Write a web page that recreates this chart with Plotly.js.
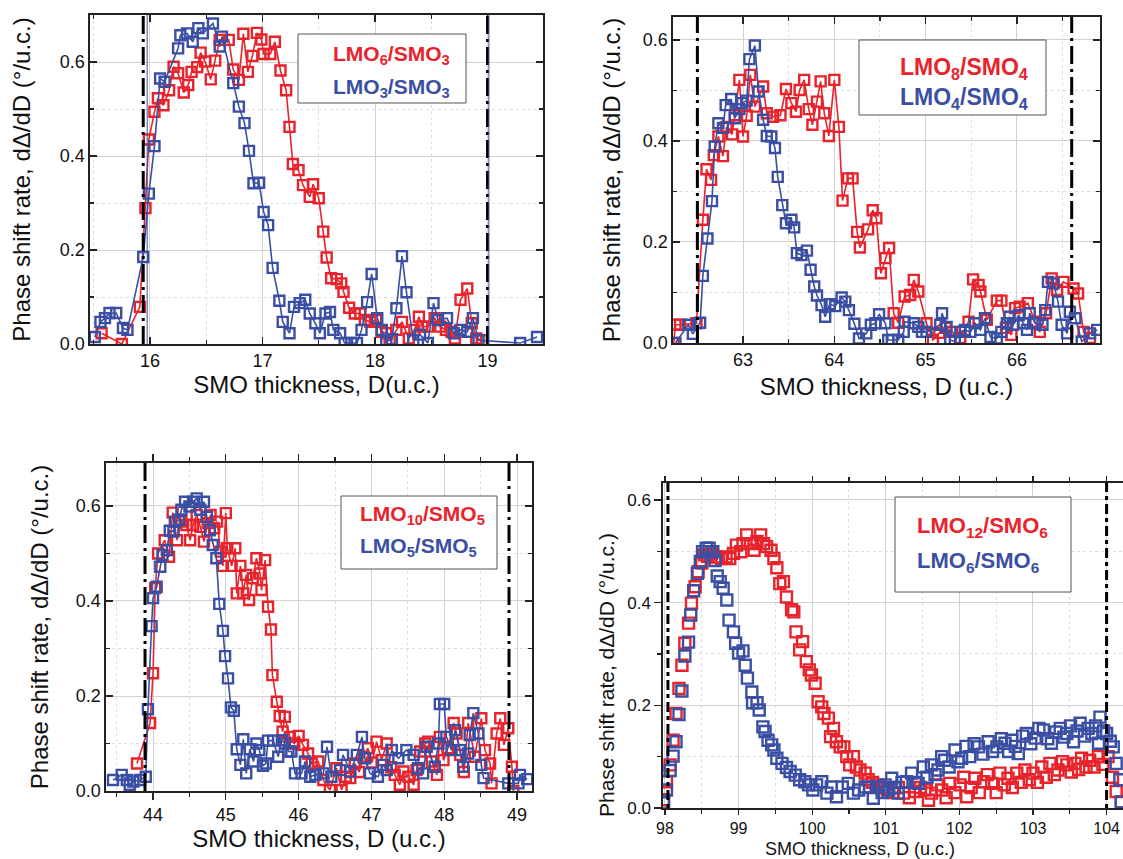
<!DOCTYPE html>
<html>
<head>
<meta charset="utf-8">
<script src="https://cdn.plot.ly/plotly-3.0.1.min.js"></script>
<style>
html,body{margin:0;padding:0;background:#fff;}
#chart{width:1123px;height:859px;}
</style>
</head>
<body>
<div id="chart"></div>
<script>
// ---------------- DATA ----------------
// Panel A: LMO6/SMO3 (red) and LMO3/SMO3 (blue)
const aRedX = [15.57,15.75,15.91,15.96,15.99,16.04,16.07,16.12,16.17,16.21,16.25,16.30,16.34,16.37,16.42,16.45,16.49,16.54,16.58,16.62,16.70,16.74,16.79,16.83,16.87,16.91,16.95,16.99,17.01,17.07,17.11,17.16,17.21,17.24,17.27,17.32,17.36,17.42,17.45,17.50,17.54,17.57,17.61,17.66,17.70,17.72,17.77,17.82,17.87,17.91,17.96,18.01,18.06,18.10,18.13,18.19,18.24,18.30,18.35,18.39,18.42,18.47,18.53,18.58,18.63,18.68,18.71,18.76,18.82,18.86,18.90,18.95];
const aRedY = [0.023,0.000,0.079,0.289,0.435,0.494,0.523,0.508,0.540,0.590,0.576,0.535,0.551,0.579,0.589,0.620,0.601,0.563,0.603,0.647,0.647,0.584,0.562,0.660,0.579,0.613,0.662,0.648,0.617,0.617,0.643,0.582,0.540,0.462,0.383,0.370,0.338,0.313,0.340,0.310,0.239,0.184,0.140,0.138,0.129,0.111,0.077,0.065,0.065,0.051,0.047,0.051,0.026,0.023,0.008,0.030,0.047,0.012,0.030,0.058,0.037,0.037,0.055,0.037,0.030,0.026,0.012,0.094,0.118,0.044,0.012,0.008];
const aBlueX = [15.51,15.56,15.60,15.64,15.70,15.76,15.80,15.94,15.99,16.04,16.09,16.13,16.25,16.27,16.33,16.38,16.43,16.47,16.56,16.62,16.64,16.74,16.79,16.84,16.88,16.92,16.97,17.01,17.05,17.09,17.15,17.18,17.24,17.28,17.33,17.38,17.42,17.47,17.51,17.56,17.60,17.63,17.69,17.73,17.79,17.84,17.88,17.93,17.97,18.02,18.06,18.10,18.15,18.19,18.24,18.28,18.34,18.40,18.47,18.52,18.56,18.64,18.70,18.76,18.82,18.87,18.92,19.29,19.44];
const aBlueY = [0.015,0.047,0.055,0.066,0.066,0.034,0.030,0.185,0.320,0.421,0.565,0.558,0.629,0.657,0.661,0.643,0.672,0.661,0.682,0.633,0.654,0.555,0.505,0.470,0.411,0.342,0.343,0.281,0.253,0.162,0.092,0.047,0.023,0.079,0.087,0.094,0.065,0.044,0.023,0.065,0.068,0.030,0.023,0.002,0.002,0.002,0.030,0.089,0.149,0.055,0.030,0.005,0.010,0.076,0.187,0.110,0.008,0.020,0.002,0.087,0.051,0.055,0.023,0.030,0.026,0.055,0.008,0.002,0.015];

// Panel B: LMO8/SMO4 (red) and LMO4/SMO4 (blue)
const bRedX = [62.24,62.26,62.31,62.49,62.56,62.60,62.65,62.68,62.73,62.78,62.82,62.88,62.91,62.96,63.00,63.04,63.08,63.13,63.22,63.26,63.33,63.41,63.47,63.53,63.58,63.62,63.67,63.72,63.76,63.81,63.85,63.89,63.94,64.00,64.05,64.09,64.15,64.20,64.25,64.28,64.37,64.42,64.46,64.51,64.56,64.60,64.65,64.70,64.77,64.83,64.87,64.92,65.01,65.08,65.15,65.22,65.29,65.38,65.47,65.52,65.58,65.60,65.67,65.78,65.83,65.88,65.94,65.98,66.03,66.12,66.20,66.25,66.32,66.38,66.44,66.51,66.62,66.67,66.73,66.80];
const bRedY = [0.000,0.036,0.036,0.039,0.244,0.344,0.323,0.372,0.409,0.370,0.428,0.413,0.451,0.521,0.409,0.450,0.531,0.468,0.508,0.455,0.448,0.451,0.503,0.475,0.458,0.501,0.521,0.463,0.432,0.478,0.518,0.455,0.410,0.521,0.428,0.282,0.326,0.326,0.220,0.189,0.225,0.263,0.247,0.138,0.168,0.188,0.059,0.040,0.092,0.095,0.125,0.102,0.039,0.006,0.020,0.030,0.022,0.010,0.042,0.126,0.115,0.102,0.046,0.084,0.084,0.030,0.016,0.069,0.072,0.079,0.042,0.022,0.059,0.128,0.105,0.121,0.108,0.098,0.022,0.010];
const bBlueX = [62.26,62.40,62.45,62.53,62.56,62.61,62.66,62.69,62.73,62.78,62.81,62.87,62.91,62.96,62.99,63.04,63.07,63.13,63.17,63.22,63.26,63.31,63.35,63.38,63.43,63.47,63.53,63.56,63.59,63.64,63.70,63.74,63.78,63.81,63.86,63.90,63.95,64.01,64.08,64.12,64.16,64.22,64.27,64.35,64.40,64.45,64.49,64.56,64.59,64.63,64.70,64.76,64.77,64.87,64.92,64.96,65.01,65.16,65.18,65.23,65.27,65.32,65.38,65.43,65.49,65.54,65.60,65.65,65.71,65.78,65.83,65.89,65.92,65.96,66.02,66.07,66.11,66.14,66.20,66.28,66.31,66.34,66.40,66.45,66.49,66.55,66.58,66.64,66.71,66.80,66.88];
const bBlueY = [0.000,0.036,0.018,0.040,0.133,0.207,0.281,0.389,0.435,0.426,0.471,0.483,0.445,0.463,0.475,0.480,0.562,0.589,0.498,0.442,0.410,0.409,0.386,0.329,0.273,0.237,0.244,0.229,0.178,0.174,0.183,0.145,0.112,0.094,0.075,0.052,0.077,0.073,0.090,0.082,0.065,0.038,0.009,0.019,0.036,0.039,0.057,0.039,0.006,0.006,0.006,0.022,0.042,0.039,0.032,0.022,0.022,0.036,0.059,0.032,0.006,0.003,0.022,0.026,0.022,0.039,0.026,0.049,0.012,0.009,0.022,0.039,0.052,0.036,0.055,0.039,0.026,0.059,0.039,0.036,0.065,0.121,0.118,0.082,0.036,0.019,0.062,0.049,0.003,0.019,0.026];

// Panel C: LMO10/SMO5 (red) and LMO5/SMO5 (blue)
const cRedX = [43.78,43.96,44.00,44.03,44.07,44.16,44.22,44.27,44.33,44.39,44.46,44.51,44.55,44.60,44.65,44.70,44.75,44.79,44.84,44.88,44.93,44.96,45.00,45.02,45.08,45.13,45.15,45.20,45.24,45.28,45.32,45.37,45.42,45.47,45.49,45.54,45.58,45.62,45.64,45.70,45.74,45.78,45.81,45.88,45.94,46.00,46.06,46.13,46.18,46.27,46.34,46.43,46.52,46.59,46.65,46.71,46.77,46.83,46.89,46.95,47.01,47.07,47.14,47.21,47.27,47.32,47.39,47.44,47.51,47.58,47.62,47.67,47.74,47.78,47.83,47.90,47.94,47.99,48.05,48.13,48.17,48.22,48.27,48.33,48.42,48.51,48.56,48.63,48.65,48.72,48.77,48.82,48.88,48.93,48.95];
const cRedY = [0.058,0.143,0.248,0.427,0.500,0.528,0.493,0.586,0.528,0.567,0.560,0.528,0.560,0.581,0.556,0.525,0.564,0.581,0.553,0.567,0.504,0.474,0.585,0.511,0.474,0.511,0.416,0.474,0.416,0.455,0.402,0.448,0.490,0.458,0.423,0.486,0.388,0.340,0.244,0.188,0.158,0.125,0.156,0.114,0.100,0.116,0.097,0.079,0.058,0.062,0.023,0.002,0.048,0.002,0.030,0.027,0.058,0.040,0.072,0.090,0.060,0.104,0.065,0.100,0.050,0.034,0.013,0.041,0.030,0.013,0.044,0.083,0.100,0.104,0.062,0.034,0.114,0.065,0.090,0.143,0.121,0.076,0.040,0.143,0.072,0.153,0.086,0.058,0.016,0.121,0.153,0.097,0.132,0.051,0.000];
const cBlueX = [43.45,43.57,43.64,43.68,43.73,43.82,43.90,43.93,43.98,44.00,44.05,44.10,44.13,44.19,44.23,44.28,44.30,44.36,44.39,44.44,44.50,44.55,44.60,44.65,44.70,44.74,44.78,44.82,44.87,44.91,44.96,44.99,45.03,45.07,45.11,45.15,45.20,45.24,45.28,45.33,45.38,45.42,45.46,45.51,45.55,45.58,45.65,45.72,45.77,45.81,45.86,45.90,45.95,46.04,46.09,46.16,46.23,46.34,46.39,46.45,46.57,46.61,46.71,46.80,46.87,46.91,46.98,47.09,47.16,47.21,47.28,47.37,47.48,47.58,47.64,47.71,47.76,47.87,47.92,47.94,48.00,48.03,48.10,48.15,48.22,48.26,48.33,48.35,48.40,48.47,48.51,48.54,48.88,49.02,49.04,49.14];
const cBlueY = [0.023,0.034,0.023,0.013,0.020,0.023,0.030,0.172,0.347,0.406,0.430,0.472,0.497,0.507,0.548,0.546,0.567,0.571,0.592,0.609,0.599,0.609,0.616,0.592,0.609,0.577,0.549,0.518,0.490,0.394,0.337,0.284,0.237,0.176,0.169,0.088,0.055,0.109,0.037,0.088,0.062,0.100,0.086,0.053,0.058,0.106,0.106,0.072,0.107,0.100,0.083,0.083,0.037,0.037,0.062,0.030,0.034,0.037,0.093,0.030,0.044,0.076,0.041,0.076,0.114,0.069,0.037,0.030,0.055,0.044,0.086,0.069,0.086,0.076,0.048,0.037,0.093,0.051,0.100,0.183,0.183,0.114,0.086,0.128,0.086,0.051,0.079,0.118,0.164,0.121,0.055,0.027,0.016,0.016,0.034,0.025];

// Panel D: LMO12/SMO6 (red) and LMO6/SMO6 (blue)
const dRedX = [97.98,98.02,98.07,98.11,98.15,98.19,98.23,98.27,98.32,98.36,98.41,98.45,98.50,98.54,98.58,98.63,98.70,98.77,98.83,98.88,98.93,98.97,99.03,99.06,99.11,99.16,99.21,99.25,99.30,99.34,99.38,99.44,99.48,99.52,99.56,99.61,99.65,99.72,99.75,99.78,99.83,99.87,99.92,99.96,99.99,100.04,100.08,100.13,100.16,100.22,100.25,100.29,100.33,100.38,100.43,100.47,100.51,100.56,100.60,100.65,100.72,100.76,100.82,100.88,100.95,101.02,101.10,101.17,101.24,101.32,101.40,101.47,101.53,101.58,101.62,101.70,101.76,101.82,101.87,101.94,102.01,102.06,102.10,102.16,102.21,102.27,102.33,102.38,102.44,102.50,102.55,102.61,102.66,102.72,102.78,102.84,102.89,102.95,103.00,103.06,103.12,103.18,103.23,103.29,103.34,103.40,103.46,103.52,103.57,103.62,103.66,103.72,103.77,103.83,103.89,103.95,104.02,104.08,104.13,104.20];
const dRedY = [0.016,0.051,0.084,0.132,0.184,0.233,0.278,0.321,0.360,0.399,0.431,0.460,0.477,0.493,0.490,0.495,0.489,0.486,0.489,0.486,0.496,0.512,0.499,0.515,0.532,0.515,0.502,0.519,0.532,0.515,0.509,0.502,0.486,0.468,0.437,0.441,0.411,0.386,0.382,0.343,0.308,0.324,0.285,0.269,0.259,0.243,0.207,0.197,0.184,0.175,0.139,0.155,0.129,0.119,0.119,0.100,0.084,0.100,0.080,0.074,0.068,0.055,0.050,0.045,0.040,0.035,0.030,0.040,0.029,0.020,0.032,0.040,0.035,0.015,0.029,0.045,0.035,0.020,0.048,0.030,0.045,0.060,0.022,0.040,0.058,0.030,0.051,0.065,0.048,0.030,0.068,0.045,0.058,0.040,0.068,0.050,0.074,0.055,0.068,0.050,0.080,0.060,0.087,0.065,0.074,0.090,0.084,0.070,0.087,0.075,0.097,0.080,0.093,0.080,0.100,0.085,0.100,0.060,0.032,0.012];
const dBlueX = [97.98,98.02,98.07,98.11,98.15,98.19,98.23,98.27,98.32,98.35,98.39,98.44,98.48,98.51,98.56,98.60,98.65,98.68,98.71,98.75,98.79,98.84,98.87,98.93,98.96,99.00,99.06,99.09,99.12,99.18,99.19,99.25,99.28,99.33,99.36,99.40,99.45,99.48,99.52,99.59,99.65,99.70,99.77,99.83,99.90,99.95,100.01,100.06,100.13,100.20,100.26,100.33,100.41,100.49,100.56,100.63,100.72,100.78,100.83,100.90,100.95,100.99,101.04,101.08,101.12,101.17,101.22,101.28,101.35,101.40,101.44,101.51,101.56,101.62,101.67,101.71,101.76,101.80,101.86,101.94,101.98,102.03,102.09,102.14,102.20,102.26,102.32,102.39,102.45,102.51,102.57,102.62,102.67,102.71,102.76,102.80,102.86,102.91,102.97,103.03,103.08,103.14,103.20,103.25,103.31,103.37,103.42,103.46,103.51,103.55,103.60,103.64,103.70,103.75,103.80,103.85,103.89,103.91,103.96,104.00,104.05,104.09,104.13,104.18,104.20];
const dBlueY = [0.010,0.035,0.073,0.101,0.129,0.182,0.228,0.296,0.323,0.376,0.423,0.457,0.480,0.499,0.506,0.506,0.499,0.482,0.452,0.441,0.428,0.405,0.366,0.343,0.321,0.302,0.306,0.278,0.253,0.226,0.205,0.205,0.191,0.158,0.149,0.132,0.123,0.113,0.097,0.087,0.079,0.071,0.064,0.055,0.051,0.045,0.035,0.045,0.051,0.029,0.041,0.022,0.041,0.048,0.029,0.035,0.041,0.040,0.019,0.041,0.030,0.045,0.035,0.058,0.040,0.029,0.050,0.051,0.068,0.050,0.048,0.080,0.060,0.084,0.065,0.074,0.100,0.093,0.080,0.113,0.090,0.097,0.120,0.100,0.125,0.119,0.105,0.129,0.110,0.119,0.135,0.126,0.110,0.132,0.120,0.106,0.140,0.145,0.125,0.136,0.155,0.152,0.135,0.126,0.148,0.155,0.138,0.145,0.160,0.129,0.150,0.165,0.140,0.155,0.145,0.160,0.126,0.177,0.150,0.145,0.130,0.119,0.087,0.055,0.012];

// Legend labels and axis titles
const labelsA = ['LMO<sub>6</sub>/SMO<sub>3</sub>', 'LMO<sub>3</sub>/SMO<sub>3</sub>'];
const labelsB = ['LMO<sub>8</sub>/SMO<sub>4</sub>', 'LMO<sub>4</sub>/SMO<sub>4</sub>'];
const labelsC = ['LMO<sub>10</sub>/SMO<sub>5</sub>', 'LMO<sub>5</sub>/SMO<sub>5</sub>'];
const labelsD = ['LMO<sub>12</sub>/SMO<sub>6</sub>', 'LMO<sub>6</sub>/SMO<sub>6</sub>'];
const yTitle = 'Phase shift rate, dΔ/dD (°/u.c.)';
const xTitleA = 'SMO thickness, D(u.c.)';
const xTitle = 'SMO thickness, D (u.c.)';

// ---------------- STYLE ----------------
const RED = '#e8232b', BLUE = '#3a4fa3';
const FONT = 'Liberation Sans, Arial, Helvetica, sans-serif';

function tr(x, y, color, xa, ya, name, withLines, size) {
  return {
    x: x, y: y, xaxis: xa, yaxis: ya, name: name, type: 'scatter',
    mode: withLines ? 'lines+markers' : 'markers',
    line: {color: color, width: 1.6},
    marker: {symbol: 'square-open', size: size, color: color, line: {width: 2.4, color: color}},
    showlegend: false, cliponaxis: true
  };
}

const data = [
  tr(aRedX, aRedY, RED, 'x', 'y', 'LMO6/SMO3', true, 10),
  tr(aBlueX, aBlueY, BLUE, 'x', 'y', 'LMO3/SMO3', true, 10),
  tr(bRedX, bRedY, RED, 'x2', 'y2', 'LMO8/SMO4', true, 10),
  tr(bBlueX, bBlueY, BLUE, 'x2', 'y2', 'LMO4/SMO4', true, 10),
  tr(cRedX, cRedY, RED, 'x3', 'y3', 'LMO10/SMO5', true, 10),
  tr(cBlueX, cBlueY, BLUE, 'x3', 'y3', 'LMO5/SMO5', true, 10),
  tr(dRedX, dRedY, RED, 'x4', 'y4', 'LMO12/SMO6', false, 11),
  tr(dBlueX, dBlueY, BLUE, 'x4', 'y4', 'LMO6/SMO6', false, 11)
];

const W = 1123, H = 859;
const px = v => v / W;
const py = v => 1 - v / H;

function xax(dom, range, anchor, title, ticks, fs, tfs, standoff, tl) {
  return {
    domain: dom, range: range, anchor: anchor, dtick: 1, tick0: 0,
    ticks: ticks, ticklen: tl || 7, tickwidth: 1.2, tickcolor: '#222',
    showgrid: true, gridcolor: '#d2d2d2', gridwidth: 1,
    minor: {dtick: 0.5, ticks: ticks, ticklen: 4, tickcolor: '#222', showgrid: true, gridcolor: '#dedede', griddash: 'dot'},
    showline: true, linecolor: '#222', linewidth: 1.6, mirror: 'ticks', zeroline: false,
    tickfont: {family: FONT, size: tfs, color: '#111'},
    title: {text: title, font: {family: FONT, size: fs, color: '#111'}, standoff: standoff},
    automargin: false, fixedrange: true
  };
}
function yax(dom, range, anchor, title, ticks, fs, tfs, standoff) {
  return {
    domain: dom, range: range, anchor: anchor, dtick: 0.2, tick0: 0, tickformat: '.1f',
    ticks: ticks, ticklen: 7, tickwidth: 1.2, tickcolor: '#222',
    showgrid: true, gridcolor: '#d2d2d2', gridwidth: 1,
    minor: {dtick: 0.1, ticks: ticks, ticklen: 4, tickcolor: '#222', showgrid: true, gridcolor: '#dedede', griddash: 'dot'},
    showline: true, linecolor: '#222', linewidth: 1.6, mirror: 'ticks', zeroline: false,
    tickfont: {family: FONT, size: tfs, color: '#111'},
    title: {text: title, font: {family: FONT, size: fs, color: '#111'}, standoff: standoff},
    automargin: false, fixedrange: true
  };
}

function vline(xa, xv, color, width, dash) {
  return {type: 'line', xref: xa, yref: xa.replace('x', 'y') + ' domain', x0: xv, x1: xv, y0: 0, y1: 1,
          line: {color: color, width: width, dash: dash}, layer: 'above'};
}
function box(x0, x1, y0, y1) {
  return {type: 'rect', xref: 'paper', yref: 'paper', x0: px(x0), x1: px(x1), y0: py(y1), y1: py(y0),
          line: {color: '#555', width: 1}, fillcolor: 'white', layer: 'above'};
}
function lab(text, color, x, y, anchor, size) {
  return {text: '<b>' + text + '</b>', xref: 'paper', yref: 'paper', x: px(x), y: py(y),
          xanchor: anchor, yanchor: 'middle', showarrow: false,
          font: {family: FONT, size: size, color: color}};
}

const DD = '18px,5px,3px,5px';

const xaxis4 = xax([px(663), px(1123)], [97.973, 104.223], 'y4', '', 'outside', 18, 16, 4, 5);
const yaxis4 = yax([py(808), py(483)], [0, 0.633], 'x4', '', 'outside', 21, 17, 10);

const layout = {
  width: W, height: H, margin: {l: 0, r: 0, t: 0, b: 0},
  paper_bgcolor: 'white', plot_bgcolor: 'white', showlegend: false,
  font: {family: FONT},
  xaxis:  xax([px(90), px(543)], [15.467, 19.493], 'y', xTitleA, 'inside', 24, 18, 3),
  yaxis:  yax([py(344), py(15)], [0, 0.7], 'x', yTitle, 'inside', 24, 18, 22),
  xaxis2: xax([px(673), px(1100)], [62.233, 66.91], 'y2', xTitle, 'inside', 24, 18, 9),
  yaxis2: yax([py(343), py(17)], [0, 0.6455], 'x2', yTitle, 'inside', 24, 18, 15),
  xaxis3: xax([px(106), px(532)], [43.354, 49.206], 'y3', xTitle, 'outside', 24, 18, 0),
  yaxis3: yax([py(791), py(463)], [0, 0.6905], 'x3', yTitle, 'inside', 24, 18, 20),
  xaxis4: xaxis4,
  yaxis4: yaxis4,
  shapes: [
    vline('x', 15.94, '#000', 3, DD), vline('x', 15.975, BLUE, 1, 'solid'),
    vline('x', 19.0, '#000', 3, DD), vline('x', 19.012, BLUE, 1, 'solid'),
    vline('x2', 62.5, '#000', 3, DD), vline('x2', 66.6, '#000', 3, DD),
    vline('x3', 43.89, '#000', 3, DD), vline('x3', 48.89, '#000', 3, DD),
    vline('x4', 98.04, '#000', 3, '4px,4px,10px,4px'), vline('x4', 104.0, '#000', 3, '4px,4px,10px,4px'),
    box(298, 466, 34, 103), box(859, 1046, 40, 115), box(341, 497, 496, 569), box(895, 1071, 497, 592)
  ],
  annotations: [
    lab(labelsA[0], RED, 452, 55, 'right', 21), lab(labelsA[1], BLUE, 452, 88, 'right', 21),
    lab(labelsB[0], RED, 1030, 68, 'right', 23), lab(labelsB[1], BLUE, 1030, 98, 'right', 23),
    lab(labelsC[0], RED, 358, 515, 'left', 21), lab(labelsC[1], BLUE, 358, 547, 'left', 21),
    lab(labelsD[0], RED, 915, 527, 'left', 22), lab(labelsD[1], BLUE, 915, 562, 'left', 22),
    // Panel D axis titles (offset from the axis centre as in the reference)
    {text: xTitle, xref: 'paper', yref: 'paper', x: px(860), y: py(849), xanchor: 'center', yanchor: 'middle',
     showarrow: false, font: {family: FONT, size: 18, color: '#111'}},
    {text: yTitle, xref: 'paper', yref: 'paper', x: px(606), y: py(675), xanchor: 'center', yanchor: 'middle',
     textangle: -90, showarrow: false, font: {family: FONT, size: 21, color: '#111'}}
  ]
};

Plotly.newPlot('chart', data, layout, {displayModeBar: false, staticPlot: true});
</script>
</body>
</html>
